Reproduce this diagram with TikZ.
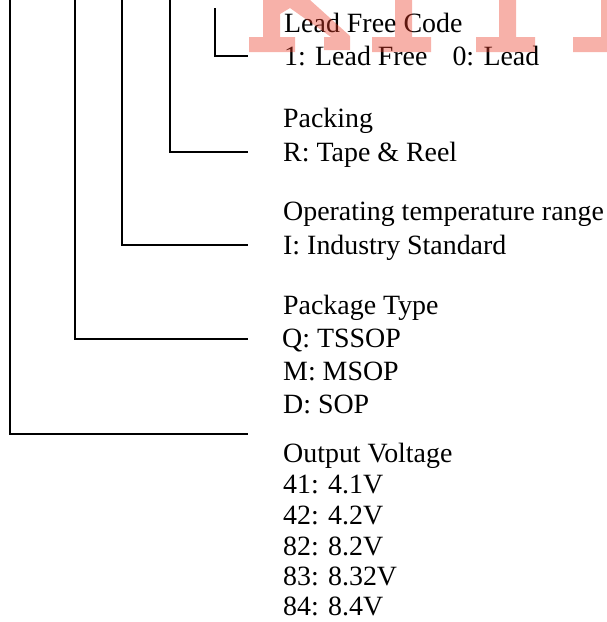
\documentclass[tikz,border=0pt]{standalone}
\usepackage{fontspec}
\setmainfont{Liberation Serif}
\begin{document}
\begin{tikzpicture}[x=1pt,y=-1pt,
  lbl/.style={anchor=base west,inner sep=0pt,font=\fontsize{27.9}{33}\selectfont},
  lead/.style={line width=1.3pt,black},
  wm/.style={fill={rgb,255:red,235;green,60;blue,40},fill opacity=0.4,draw=none}]
\useasboundingbox (0,0) rectangle (607,622);
% corner coordinates
\coordinate (t1) at (215,8);   \coordinate (e1) at (248,56);
\coordinate (t2) at (170,0);   \coordinate (e2) at (248,152);
\coordinate (t3) at (122,0);   \coordinate (e3) at (248,245);
\coordinate (t4) at (75,0);    \coordinate (e4) at (248,339);
\coordinate (t5) at (10,0);    \coordinate (e5) at (248,434);
\draw[lead] (t1) |- (e1);
\draw[lead] (t2) |- (e2);
\draw[lead] (t3) |- (e3);
\draw[lead] (t4) |- (e4);
\draw[lead] (t5) |- (e5);
% texts
\node[lbl] (a1) at (284,32) {Lead Free Code};
\node[lbl] (a2) at (284,65) {1: Lead Free\hspace{25pt}0: Lead};
\node[lbl] (b1) at (283,127) {Packing};
\node[lbl] (b2) at (283,161) {R: Tape \& Reel};
\node[lbl] (c1) at (283,220) {Operating temperature range};
\node[lbl] (c2) at (283,254) {I: Industry Standard};
\node[lbl] (d1) at (283,314) {Package Type};
\node[lbl] (d2) at (282,347) {Q: TSSOP};
\node[lbl] (d3) at (283,380) {M: MSOP};
\node[lbl] (d4) at (283,413) {D: SOP};
\node[lbl] (f1) at (283,462) {Output Voltage};
\node[lbl] (f2) at (283,493) {41: 4.1V};
\node[lbl] (f3) at (283,524) {42: 4.2V};
\node[lbl] (f4) at (283,555) {82: 8.2V};
\node[lbl] (f5) at (283,585) {83: 8.32V};
\node[lbl] (f6) at (283,615) {84: 8.4V};
% red watermark fragments
\fill[wm] (263,0) -- (310,0) -- (350,36) -- (350,50) -- (324,50) -- (324,37) -- (331,37)
  -- (290,8) -- (280,14) -- (280,37) -- (295,37) -- (295,52) -- (249,52) -- (249,37)
  -- (263,37) -- cycle;
\fill[wm] (395,0) -- (412,0) -- (412,37) -- (431,37) -- (431,52) -- (372,52) -- (372,37)
  -- (395,37) -- cycle;
\fill[wm] (499,0) -- (516,0) -- (516,37) -- (535,37) -- (535,52) -- (476,52) -- (476,37)
  -- (499,37) -- cycle;
\fill[wm] (601,0) -- (607,0) -- (607,52) -- (573,52) -- (573,37) -- (601,37) -- cycle;
\end{tikzpicture}
\end{document}
